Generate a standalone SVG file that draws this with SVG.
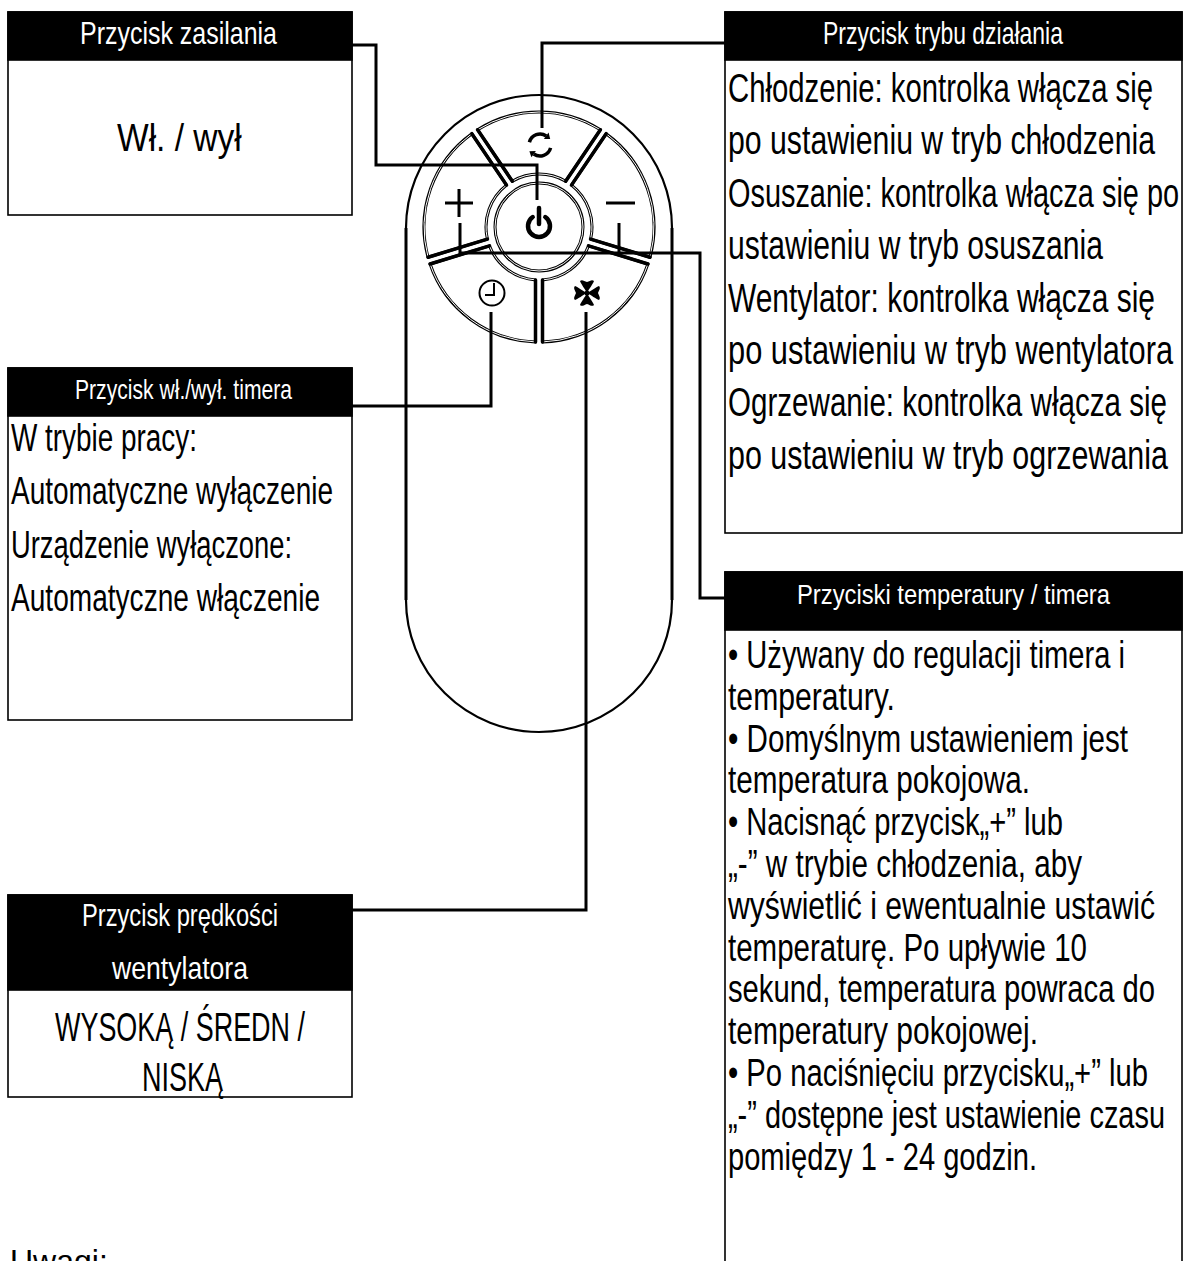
<svg xmlns="http://www.w3.org/2000/svg" xmlns:xlink="http://www.w3.org/1999/xlink" width="1184" height="1261" viewBox="0 0 1184 1261">
  <style>
    .box { fill: #fff; stroke: #000; stroke-width: 1.6; }
    .hdr { fill: #000; stroke: #000; stroke-width: 1.6; }
    .ht { font-family: "Liberation Sans Narrow", "Liberation Sans", Arial, sans-serif; fill: #fff; }
    .bt { font-family: "Liberation Sans Narrow", "Liberation Sans", Arial, sans-serif; fill: #000; }
    .wire { fill: none; stroke: #000; stroke-width: 3; }
    .body-side { fill: none; stroke: #000; stroke-width: 3; }
    .body-arc { fill: none; stroke: #000; stroke-width: 2.2; }
    .btn { fill: #fff; stroke: #000; stroke-width: 3; stroke-linejoin: round; }
    .btn-line { fill: none; stroke: #fff; stroke-width: 1; stroke-linejoin: round; }
    .edge { stroke: #000; stroke-width: 3.5; stroke-linecap: round; }
    .icon { fill: none; stroke: #000; stroke-width: 3; }
  </style>
  <defs>
    <!-- button shapes of the remote's keypad, centred at (539,227) -->
    <path id="k-mode" d="M512.33,181.2 L477.62,129.75 A115,115 0 0 1 600.38,129.75 L565.67,181.2 A53,53 0 0 0 512.33,181.2 Z"/>
    <path id="k-minus" d="M571.47,185.12 L606.18,133.67 A115,115 0 0 1 649.95,257.26 L590.59,239.11 A53,53 0 0 0 571.47,185.12 Z"/>
    <path id="k-fan" d="M588.55,245.81 L647.91,263.96 A115,115 0 0 1 542.5,341.95 L542.5,279.88 A53,53 0 0 0 588.55,245.81 Z"/>
    <path id="k-timer" d="M535.5,279.88 L535.5,341.95 A115,115 0 0 1 430.09,263.96 L489.45,245.81 A53,53 0 0 0 535.5,279.88 Z"/>
    <path id="k-plus" d="M487.41,239.11 L428.05,257.26 A115,115 0 0 1 471.82,133.67 L506.53,185.12 A53,53 0 0 0 487.41,239.11 Z"/>
    <circle id="k-power" cx="539" cy="227" r="44"/>
    <!-- one propeller blade, pointing up from the fan hub -->
    <path id="blade" d="M587,293 C585,289 581,284 580,281 C582,279 584,281 587,282 C590,281 592,279 594,281 C593,284 589,289 587,293 Z"/>
  </defs>

  <rect width="1184" height="1261" fill="#fff"/>

  <!-- remote control -->
  <g id="remote">
    <path class="body-side" d="M406,600 V228 M672,228 V600"/>
    <path class="body-arc" d="M406,228 A133,133 0 0 1 672,228 M672,600 A133,132 0 0 1 539,732 A133,132 0 0 1 406,600"/>

    <use xlink:href="#k-mode" class="btn"/><use xlink:href="#k-mode" class="btn-line"/>
    <use xlink:href="#k-minus" class="btn"/><use xlink:href="#k-minus" class="btn-line"/>
    <use xlink:href="#k-fan" class="btn"/><use xlink:href="#k-fan" class="btn-line"/>
    <use xlink:href="#k-timer" class="btn"/><use xlink:href="#k-timer" class="btn-line"/>
    <use xlink:href="#k-plus" class="btn"/><use xlink:href="#k-plus" class="btn-line"/>
    <use xlink:href="#k-power" class="btn"/><use xlink:href="#k-power" class="btn-line"/>

    <!-- darker edges along the gaps between keys -->
    <g class="edge">
      <line x1="512.33" y1="181.2" x2="477.62" y2="129.75"/>
      <line x1="565.67" y1="181.2" x2="600.38" y2="129.75"/>
      <line x1="571.47" y1="185.12" x2="606.18" y2="133.67"/>
      <line x1="590.59" y1="239.11" x2="649.95" y2="257.26"/>
      <line x1="588.55" y1="245.81" x2="647.91" y2="263.96"/>
      <line x1="542.5" y1="279.88" x2="542.5" y2="341.95"/>
      <line x1="535.5" y1="279.88" x2="535.5" y2="341.95"/>
      <line x1="489.45" y1="245.81" x2="430.09" y2="263.96"/>
      <line x1="487.41" y1="239.11" x2="428.05" y2="257.26"/>
      <line x1="506.53" y1="185.12" x2="471.82" y2="133.67"/>
    </g>

    <!-- key symbols -->
    <g id="icon-power">
      <path d="M545.3,217 A11,11 0 1 1 532.7,217" fill="none" stroke="#000" stroke-width="4.5" stroke-linecap="round"/>
      <line x1="539" y1="208" x2="539" y2="224" stroke="#000" stroke-width="4.5" stroke-linecap="round"/>
    </g>
    <g id="icon-mode">
      <path d="M529.4,142.2 A11,11 0 0 1 546.3,136" fill="none" stroke="#000" stroke-width="3.5"/>
      <polygon points="550.2,138.9 548.6,132.6 543.9,138.9" fill="#000"/>
      <path d="M550.6,147.9 A11,11 0 0 1 533.7,154" fill="none" stroke="#000" stroke-width="3.5"/>
      <polygon points="529.4,151.2 531.4,157.2 535.9,151" fill="#000"/>
    </g>
    <path id="icon-plus" class="icon" d="M445,203 H473 M459,189 V217"/>
    <path id="icon-minus" class="icon" d="M606,203 H635"/>
    <g id="icon-clock">
      <circle cx="492" cy="293" r="12.5" fill="none" stroke="#000" stroke-width="2"/>
      <path d="M494,283 V295 H485" fill="none" stroke="#000" stroke-width="2"/>
    </g>
    <g id="icon-fan" fill="#000">
      <use xlink:href="#blade"/>
      <use xlink:href="#blade" transform="rotate(90 587 293)"/>
      <use xlink:href="#blade" transform="rotate(180 587 293)"/>
      <use xlink:href="#blade" transform="rotate(270 587 293)"/>
      <circle cx="587" cy="293" r="2.5"/>
    </g>
  </g>

  <!-- leader lines -->
  <g id="connectors">
    <path class="wire" d="M352,45 H376 V165 H537 V200"/>
    <path class="wire" d="M725,43 H542 V128"/>
    <path class="wire" d="M352,406 H491 V312"/>
    <path class="wire" d="M352,910 H586 V312"/>
    <path class="wire" d="M725,598 H700 V253 H460 V223 M619,253 V223"/>
  </g>

  <!-- power button -->
  <g id="node-power">
    <rect class="box" x="8" y="12" width="344" height="203"/>
    <rect class="hdr" x="8" y="12" width="344" height="48"/>
    <text class="ht" transform="translate(80,44) scale(0.72,1)" font-size="31" textLength="273.6" lengthAdjust="spacingAndGlyphs">Przycisk zasilania</text>
    <text class="bt" transform="translate(117,151) scale(0.8,1)" font-size="39" textLength="156" lengthAdjust="spacingAndGlyphs">Wł. / wył</text>
  </g>

  <!-- mode button -->
  <g id="node-mode">
    <rect class="box" x="725" y="12" width="457" height="521"/>
    <rect class="hdr" x="725" y="12" width="457" height="48"/>
    <text class="ht" transform="translate(823,44) scale(0.72,1)" font-size="31" textLength="333.3" lengthAdjust="spacingAndGlyphs">Przycisk trybu działania</text>
    <g class="bt" font-size="40" transform="translate(728,0) scale(0.72,1)">
      <text y="102" textLength="590.3" lengthAdjust="spacingAndGlyphs">Chłodzenie: kontrolka włącza się</text>
      <text y="154" textLength="593.1" lengthAdjust="spacingAndGlyphs">po ustawieniu w tryb chłodzenia</text>
      <text y="207" textLength="626.4" lengthAdjust="spacingAndGlyphs">Osuszanie: kontrolka włącza się po</text>
      <text y="259" textLength="520.8" lengthAdjust="spacingAndGlyphs">ustawieniu w tryb osuszania</text>
      <text y="312" textLength="593.1" lengthAdjust="spacingAndGlyphs">Wentylator: kontrolka włącza się</text>
      <text y="364" textLength="618.1" lengthAdjust="spacingAndGlyphs">po ustawieniu w tryb wentylatora</text>
      <text y="416" textLength="609.7" lengthAdjust="spacingAndGlyphs">Ogrzewanie: kontrolka włącza się</text>
      <text y="469" textLength="611.1" lengthAdjust="spacingAndGlyphs">po ustawieniu w tryb ogrzewania</text>
    </g>
  </g>

  <!-- timer on/off button -->
  <g id="node-timer">
    <rect class="box" x="8" y="368" width="344" height="352"/>
    <rect class="hdr" x="8" y="368" width="344" height="48"/>
    <text class="ht" transform="translate(75,399) scale(0.72,1)" font-size="27" textLength="301.4" lengthAdjust="spacingAndGlyphs">Przycisk wł./wył. timera</text>
    <g class="bt" font-size="39" transform="translate(11,0) scale(0.72,1)">
      <text y="451" textLength="258.3" lengthAdjust="spacingAndGlyphs">W trybie pracy:</text>
      <text y="504" textLength="447.2" lengthAdjust="spacingAndGlyphs">Automatyczne wyłączenie</text>
      <text y="558" textLength="390.3" lengthAdjust="spacingAndGlyphs">Urządzenie wyłączone:</text>
      <text y="611" textLength="429.2" lengthAdjust="spacingAndGlyphs">Automatyczne włączenie</text>
    </g>
  </g>

  <!-- fan speed button -->
  <g id="node-fan">
    <rect class="box" x="8" y="895" width="344" height="202"/>
    <rect class="hdr" x="8" y="895" width="344" height="95"/>
    <text class="ht" transform="translate(82,926) scale(0.72,1)" font-size="31" textLength="272.2" lengthAdjust="spacingAndGlyphs">Przycisk prędkości</text>
    <text class="ht" transform="translate(112,979) scale(0.72,1)" font-size="31" textLength="188.9" lengthAdjust="spacingAndGlyphs">wentylatora</text>
    <text class="bt" transform="translate(55,1041) scale(0.72,1)" font-size="41" textLength="347.2" lengthAdjust="spacingAndGlyphs">WYSOKĄ / ŚREDN /</text>
    <text class="bt" transform="translate(142,1091) scale(0.72,1)" font-size="41" textLength="112.5" lengthAdjust="spacingAndGlyphs">NISKĄ</text>
  </g>

  <!-- temperature / timer buttons -->
  <g id="node-temp">
    <rect class="box" x="725" y="572" width="457" height="720"/>
    <rect class="hdr" x="725" y="572" width="457" height="58"/>
    <text class="ht" transform="translate(797,604) scale(0.72,1)" font-size="28" textLength="434.7" lengthAdjust="spacingAndGlyphs">Przyciski temperatury / timera</text>
    <g class="bt" font-size="39" transform="translate(728,0) scale(0.72,1)">
      <text y="668" textLength="551.4" lengthAdjust="spacingAndGlyphs">• Używany do regulacji timera i</text>
      <text y="710" textLength="231.9" lengthAdjust="spacingAndGlyphs">temperatury.</text>
      <text y="752" textLength="555.6" lengthAdjust="spacingAndGlyphs">• Domyślnym ustawieniem jest</text>
      <text y="793" textLength="419.4" lengthAdjust="spacingAndGlyphs">temperatura pokojowa.</text>
      <text y="835" textLength="465.3" lengthAdjust="spacingAndGlyphs">• Nacisnąć przycisk„+” lub</text>
      <text y="877" textLength="491.7" lengthAdjust="spacingAndGlyphs">„-” w trybie chłodzenia, aby</text>
      <text y="919" textLength="593.1" lengthAdjust="spacingAndGlyphs">wyświetlić i ewentualnie ustawić</text>
      <text y="961" textLength="498.6" lengthAdjust="spacingAndGlyphs">temperaturę. Po upływie 10</text>
      <text y="1002" textLength="593.1" lengthAdjust="spacingAndGlyphs">sekund, temperatura powraca do</text>
      <text y="1044" textLength="430.6" lengthAdjust="spacingAndGlyphs">temperatury pokojowej.</text>
      <text y="1086" textLength="583.3" lengthAdjust="spacingAndGlyphs">• Po naciśnięciu przycisku„+” lub</text>
      <text y="1128" textLength="606.9" lengthAdjust="spacingAndGlyphs">„-” dostępne jest ustawienie czasu</text>
      <text y="1170" textLength="429.2" lengthAdjust="spacingAndGlyphs">pomiędzy 1 - 24 godzin.</text>
    </g>
  </g>

  <!-- notes heading, running off the lower edge -->
  <text id="notes" class="bt" x="10" y="1272" font-size="32" font-family="'Liberation Sans', Arial, sans-serif">Uwagi:</text>
</svg>
